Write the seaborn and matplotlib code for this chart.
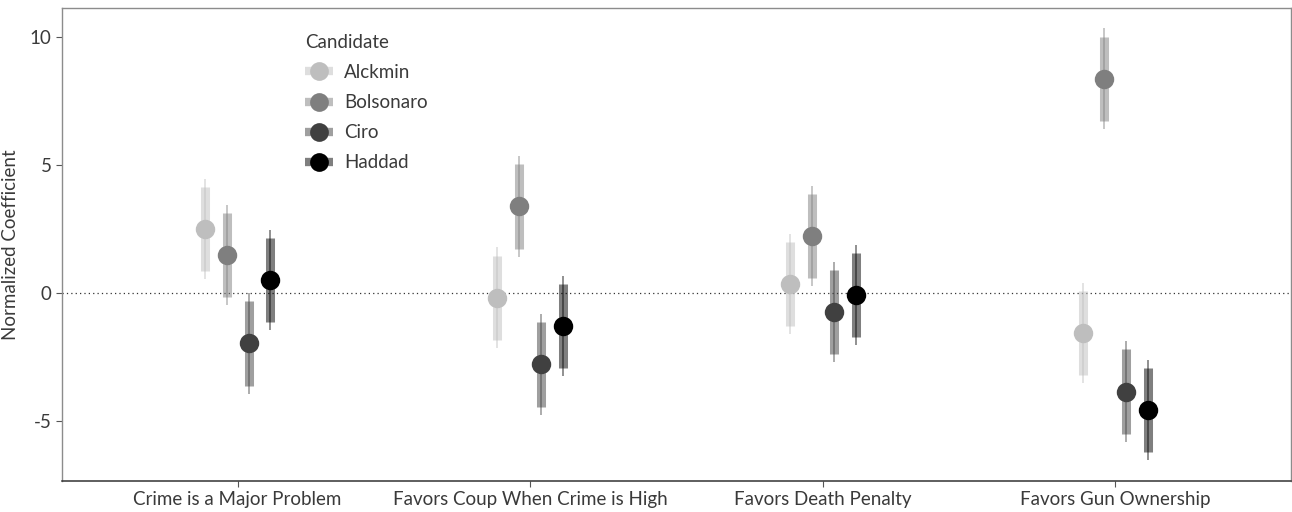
import numpy as np
import pandas as pd
import matplotlib
matplotlib.use("Agg")
import matplotlib.pyplot as plt
from matplotlib.lines import Line2D
import seaborn as sns

# Outcome categories and candidates
outcomes = ["Crime is a Major Problem", "Favors Coup When Crime is High",
            "Favors Death Penalty", "Favors Gun Ownership"]
candidates = ["Alckmin", "Bolsonaro", "Ciro", "Haddad"]

# Normalized coefficient estimates per candidate (one value per outcome)
alckmin = [2.50, -0.18, 0.35, -1.57]
bolsonaro = [1.48, 3.38, 2.23, 8.37]
ciro = [-1.97, -2.79, -0.75, -3.85]
haddad = [0.50, -1.28, -0.08, -4.57]

# Standard errors (normalized scale)
alckmin_se = [1.0, 1.0, 1.0, 1.0]
bolsonaro_se = [1.0, 1.0, 1.0, 1.0]
ciro_se = [1.0, 1.0, 1.0, 1.0]
haddad_se = [1.0, 1.0, 1.0, 1.0]

palette = {"Alckmin": "#bebebe", "Bolsonaro": "#7f7f7f",
           "Ciro": "#404040", "Haddad": "#000000"}

rows = []
for cand, est, se in zip(candidates,
                         [alckmin, bolsonaro, ciro, haddad],
                         [alckmin_se, bolsonaro_se, ciro_se, haddad_se]):
    for o, e, s in zip(outcomes, est, se):
        rows.append({"Outcome": o, "Candidate": cand, "estimate": e, "se": s})
df = pd.DataFrame(rows)
df["lo90"] = df["estimate"] - 1.645 * df["se"]
df["hi90"] = df["estimate"] + 1.645 * df["se"]
df["lo95"] = df["estimate"] - 1.96 * df["se"]
df["hi95"] = df["estimate"] + 1.96 * df["se"]

sns.set_theme(style="white")
plt.rcParams["font.family"] = ["Lato", "DejaVu Sans"]
text_col = "#3a3a3a"
fs = 13.5

fig = plt.figure(figsize=(12.92, 5.12), dpi=100)
ax = fig.add_axes([62 / 1292, 1 - 481 / 512, 1229 / 1292, 473 / 512])

sns.pointplot(data=df, x="Outcome", y="estimate", hue="Candidate",
              order=outcomes, hue_order=candidates, palette=palette,
              dodge=0.225, errorbar=None, linestyle="none",
              markers="o", markersize=14, markeredgewidth=0,
              legend=False, ax=ax, zorder=5)

# Intervals drawn at the dodged positions of each candidate's points
for line, cand in zip(ax.lines[:len(candidates)], candidates):
    xs = np.asarray(line.get_xdata(), dtype=float)
    sub = df[df["Candidate"] == cand].set_index("Outcome").loc[outcomes]
    col = palette[cand]
    ax.vlines(xs, sub["lo90"], sub["hi90"], colors=col, alpha=0.5,
              linewidth=6.5, zorder=2)
    ax.vlines(xs, sub["lo95"], sub["hi95"], colors=col, alpha=0.55,
              linewidth=1.1, zorder=3)

ax.axhline(0, color="#333333", linestyle=(0, (1, 2.5)), linewidth=0.9, zorder=1)

ax.set_xlim(-0.6, 3.6)
ax.set_ylim(-7.34, 11.13)
ax.set_yticks([-5, 0, 5, 10])
ax.set_yticklabels(["-5", "0", "5", "10"])
ax.set_xlabel("")
ax.set_ylabel("Normalized Coefficient", fontsize=fs, color=text_col,
              labelpad=8)
ax.tick_params(axis="both", which="both", length=4, width=0.8,
               colors="#555555", labelsize=fs, labelcolor=text_col,
               bottom=True, left=True)

for side in ["top", "right", "left"]:
    ax.spines[side].set_color("#8c8c8c")
    ax.spines[side].set_linewidth(1.0)
ax.spines["bottom"].set_color("#333333")
ax.spines["bottom"].set_linewidth(1.1)

handles = []
for cand in candidates:
    bar = Line2D([], [], color=palette[cand], alpha=0.5, linewidth=6,
                 solid_capstyle="butt")
    dot = Line2D([], [], color=palette[cand], marker="o", markersize=13.5,
                 linestyle="none", markeredgewidth=0)
    handles.append((bar, dot))
leg = fig.legend(handles, candidates, title="Candidate",
                 loc="upper left", bbox_to_anchor=(288 / 1292, 1 - 17 / 512),
                 frameon=False, fontsize=fs, title_fontsize=fs,
                 handlelength=1.5, handletextpad=0.6, labelspacing=0.7,
                 alignment="left")
leg.get_title().set_color(text_col)
for t in leg.get_texts():
    t.set_color(text_col)

fig.savefig("out.png", dpi=100)
